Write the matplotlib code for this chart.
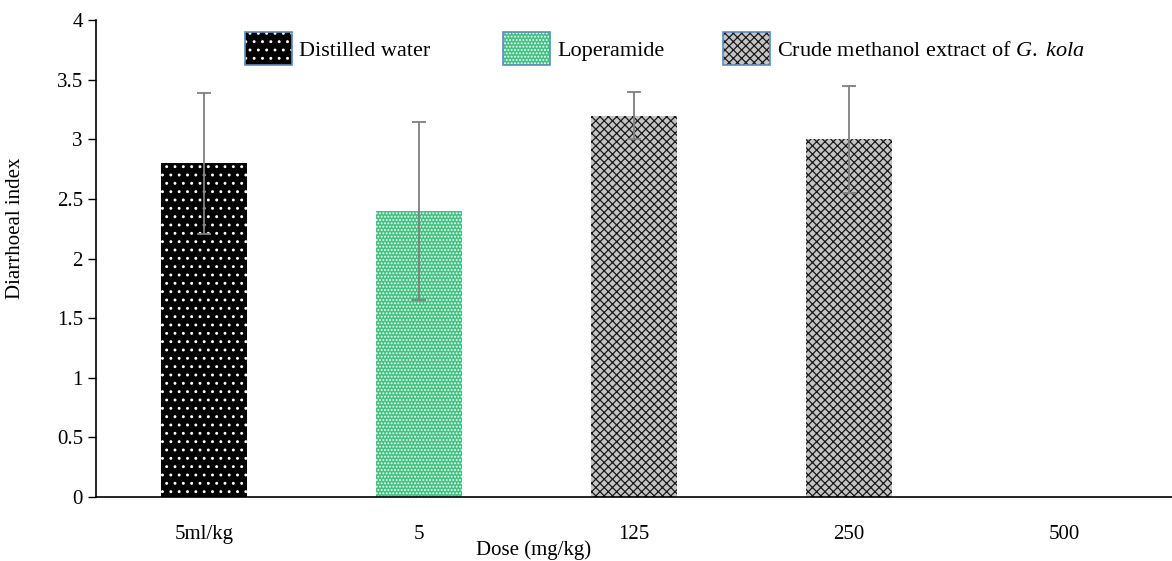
import numpy as np
import matplotlib
matplotlib.use("Agg")
import matplotlib.pyplot as plt
from matplotlib.patches import Patch
from matplotlib.legend import Legend
from matplotlib.legend_handler import HandlerTuple

# data
doses = ["5ml/kg", "5", "125", "250", "500"]
index_mean = [2.8, 2.4, 3.2, 3.0, 0.0]
index_err = [0.59, 0.75, 0.2, 0.45, 0.0]
groups = ["Distilled water", "Loperamide",
          "Crude methanol extract of $\\it{G.\\ kola}$"]

plt.rcParams['font.family'] = ['Liberation Serif', 'DejaVu Serif']
plt.rcParams['mathtext.fontset'] = 'custom'
plt.rcParams['mathtext.rm'] = 'Liberation Serif'
plt.rcParams['mathtext.it'] = 'Liberation Serif:italic'
plt.rcParams['hatch.linewidth'] = 0.9

# facecolor, hatch colour, hatch pattern per bar
styles = [
    ("black", "white", ".."),
    ("#3fc381", "white", "....."),
    ("#c4c4c4", "#1a1a1a", "xxxx"),
    ("#c4c4c4", "#1a1a1a", "xxxx"),
    ("#c4c4c4", "#1a1a1a", "xxxx"),
]

fig = plt.figure(figsize=(11.72, 5.61), dpi=100)
ax = fig.add_axes([0.082, 0.114, 0.918, 0.85])

x = np.arange(len(doses))
for i in range(len(doses)):
    fc, hc, h = styles[i]
    ax.bar(x[i], index_mean[i], width=0.4, color=fc, edgecolor=hc,
           hatch=h, linewidth=0)
    if index_mean[i] > 0:
        ax.errorbar(x[i], index_mean[i], yerr=index_err[i], fmt='none',
                    ecolor='#7f7f7f', elinewidth=1.3, capsize=5,
                    capthick=1.3)

ax.set_xlim(-0.5, 4.5)
ax.set_ylim(0, 4)
ax.set_yticks(np.arange(0, 4.01, 0.5))
ax.set_yticklabels(["0", "0.5", "1", "1.5", "2", "2.5", "3", "3.5", "4"])
ax.set_xticks(x)
ax.set_xticklabels(doses)
ax.tick_params(axis='x', length=0, pad=20, labelsize=15)
ax.tick_params(axis='y', length=6, width=1, labelsize=15, direction='out')

for s in ["top", "right"]:
    ax.spines[s].set_visible(False)
ax.spines["left"].set_linewidth(1.2)
ax.spines["bottom"].set_linewidth(1.2)

ax.set_ylabel("Diarrhoeal index", fontsize=15)
ax.yaxis.set_label_coords(-0.066, 0.564)
ax.set_xlabel("Dose (mg/kg)", fontsize=15)
ax.xaxis.set_label_coords(0.407, -0.09)

# one legend per group, placed like the original
leg_x = [245, 503, 723]
for i in range(3):
    fc, hc, h = styles[i]
    fill = Patch(facecolor=fc, hatch=h, edgecolor=hc, linewidth=0)
    frame = Patch(fill=False, edgecolor="#5b8cc4", linewidth=1.2)
    leg = Legend(ax, [(fill, frame)], [groups[i]],
                 handler_map={tuple: HandlerTuple(ndivide=1)},
                 frameon=False, prop={'family': 'Liberation Serif', 'size': 16},
                 loc='upper left',
                 bbox_to_anchor=(leg_x[i] / 1172, 1 - 32 / 561),
                 bbox_transform=fig.transFigure, borderpad=0,
                 borderaxespad=0, handlelength=2.1, handleheight=1.9,
                 handletextpad=0.35)
    ax.add_artist(leg)

fig.savefig("out.png", dpi=100)
